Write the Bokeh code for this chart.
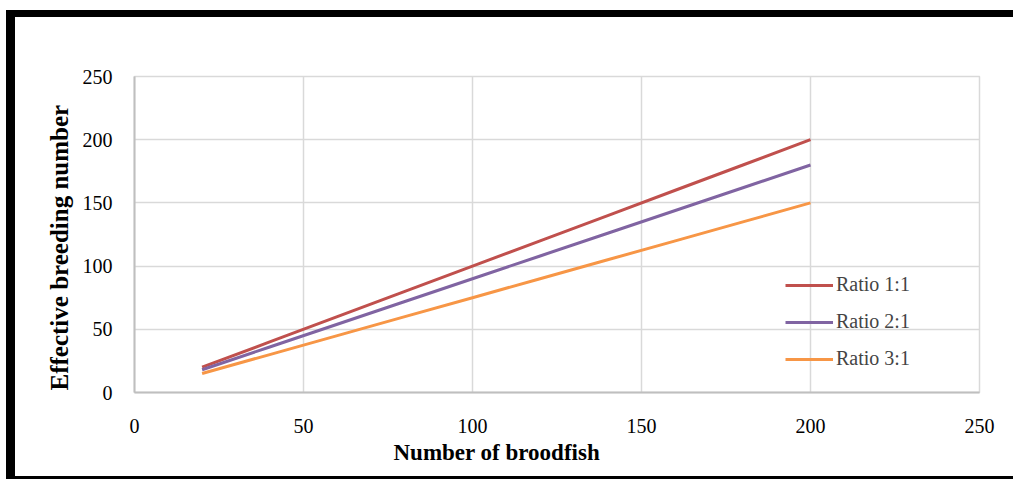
from bokeh.plotting import figure
from bokeh.models import (Range1d, FixedTicker, Legend, LegendItem, Title,
                          InlineStyleSheet, GlobalInlineStyleSheet)
from bokeh.embed import file_html
from bokeh.resources import INLINE

# ---- data ----
broodfish = [20, 40, 60, 80, 100, 120, 140, 160, 180, 200]
ratio_1_1 = [20, 40, 60, 80, 100, 120, 140, 160, 180, 200]
ratio_2_1 = [18, 36, 54, 72, 90, 108, 126, 144, 162, 180]
ratio_3_1 = [15, 30, 45, 60, 75, 90, 105, 120, 135, 150]
series_names = ["Ratio 1:1", "Ratio 2:1", "Ratio 3:1"]
x_ticks = [0, 50, 100, 150, 200, 250]
y_ticks = [0, 50, 100, 150, 200, 250]
x_title = "Number of broodfish"
y_title = "Effective breeding number"

colors = ["#C0504D", "#8064A2", "#F79646"]
SERIF = "Liberation Serif"

W, H = 1013, 479
FL, FR, FT, FB = 134, 979, 76, 392  # frame pixel bounds

p = figure(width=W, height=H, output_backend="svg", toolbar_location=None,
           x_range=Range1d(0, 250), y_range=Range1d(0, 250),
           min_border_left=FL, min_border_right=W - FR,
           min_border_top=FT, min_border_bottom=H - FB,
           background_fill_color="white", border_fill_color="white")

p.outline_line_color = "#D9D9D9"
p.outline_line_width = 1.5

for ax, ticks in ((p.xaxis, x_ticks), (p.yaxis, y_ticks)):
    ax.ticker = FixedTicker(ticks=ticks)
    ax.major_tick_line_color = None
    ax.minor_tick_line_color = None
    ax.axis_line_color = "#BFBFBF"
    ax.axis_line_width = 2
    ax.major_label_text_font = SERIF
    ax.major_label_text_font_size = "20px"
    ax.major_label_text_color = "#000000"
p.xaxis.major_label_standoff = 20
p.yaxis.major_label_standoff = 16

p.xgrid.ticker = FixedTicker(ticks=x_ticks)
p.ygrid.ticker = FixedTicker(ticks=y_ticks)
p.grid.grid_line_color = "#D9D9D9"
p.grid.grid_line_width = 1.5

renderers = []
for ys, c in zip((ratio_1_1, ratio_2_1, ratio_3_1), colors):
    r = p.line(broodfish, ys, line_color=c, line_width=3)
    renderers.append(r)

legend = Legend(items=[LegendItem(label=n, renderers=[r]) for n, r in zip(series_names, renderers)],
                location=(651, 22), padding=0, margin=0, spacing=14,
                glyph_width=48, glyph_height=20, label_height=20, label_standoff=3,
                label_text_font=SERIF, label_text_font_size="20px",
                background_fill_alpha=0, border_line_color=None)
p.add_layout(legend)

# axis titles as side-panel titles
p.add_layout(Title(text=x_title, align="left", offset=259, standoff=5,
                   text_font=SERIF, text_font_size="23px", text_font_style="bold",
                   text_color="#000000"), "below")
p.add_layout(Title(text=y_title, align="left", offset=2, standoff=13,
                   text_font=SERIF, text_font_size="25px", text_font_style="bold",
                   text_color="#000000"), "left")

# black frame bars around the picture (drawn by CSS on the figure host)
p.stylesheets = [
    GlobalInlineStyleSheet(css="html, body { margin: 0; padding: 0; overflow: hidden; }"),
    InlineStyleSheet(css="""
:host::after {
  content: "";
  position: absolute;
  left: 0; top: 0;
  width: 1013px; height: 479px;
  border: none;
  background:
    linear-gradient(#000, #000) 6px 10px / 1007px 7px no-repeat,
    linear-gradient(#000, #000) 6px 10px / 9px 469px no-repeat,
    linear-gradient(#000, #000) 6px 476px / 1007px 3px no-repeat;
  pointer-events: none;
  z-index: 10;
}
"""),
]

open("out.html", "w").write(file_html(p, INLINE))
